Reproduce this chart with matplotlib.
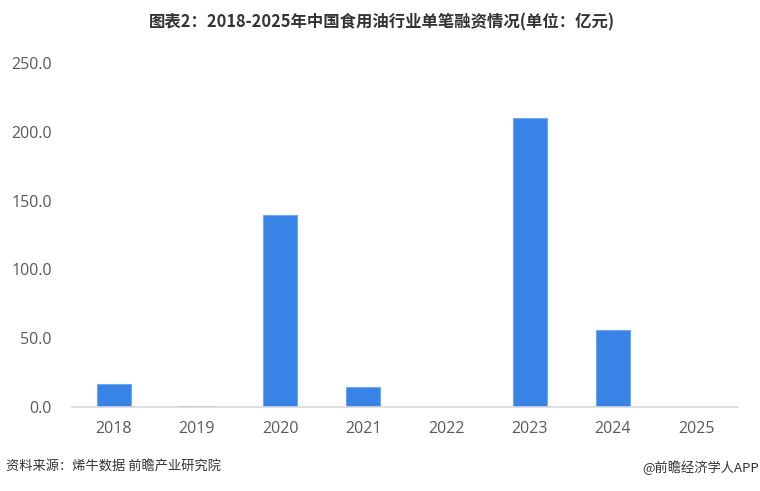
import matplotlib
matplotlib.use("Agg")
import matplotlib.pyplot as plt

plt.rcParams['font.family'] = ['Noto Sans CJK SC', 'DejaVu Sans']

# data
years = ['2018', '2019', '2020', '2021', '2022', '2023', '2024', '2025']
amounts = [16.7, 1.0, 139.2, 14.2, 0.0, 210.0, 55.6, 0.0]
y_ticks = [0, 50, 100, 150, 200, 250]

fig = plt.figure(figsize=(7.6, 4.91), dpi=100)
ax = fig.add_axes([0.0947, 0.171, 0.876, 0.701])

x = range(len(years))
ax.bar(x, amounts, width=0.41, color='#3784E6', edgecolor='#6FA8F0', linewidth=0.8, zorder=2)

ax.set_xlim(-0.5, len(years) - 0.5)
ax.set_ylim(0, 250)
ax.set_xticks(list(x))
ax.set_xticklabels(years, family='Open Sans')
ax.set_yticks(y_ticks)
ax.set_yticklabels([f"{v:.1f}" for v in y_ticks], family='Open Sans')
ax.tick_params(axis='both', length=0, labelsize=11.5, colors='#595959')
ax.tick_params(axis='x', pad=10)
ax.tick_params(axis='y', pad=14.5)

for s in ['top', 'right', 'left']:
    ax.spines[s].set_visible(False)
ax.spines['bottom'].set_color('#D9D9D9')
ax.spines['bottom'].set_linewidth(1.2)

fig.text(0.502, 0.955, '图表2：2018-2025年中国食用油行业单笔融资情况(单位：亿元)',
         ha='center', va='center', fontsize=11.8, fontweight='bold', color='#333333')
fig.text(0.008, 0.048, '资料来源：烯牛数据 前瞻产业研究院', ha='left', va='center',
         fontsize=9.5, color='#333333')
fig.text(0.999, 0.048, '@前瞻经济学人APP', ha='right', va='center',
         fontsize=9.5, color='#333333')

fig.savefig('out.png', dpi=100)
